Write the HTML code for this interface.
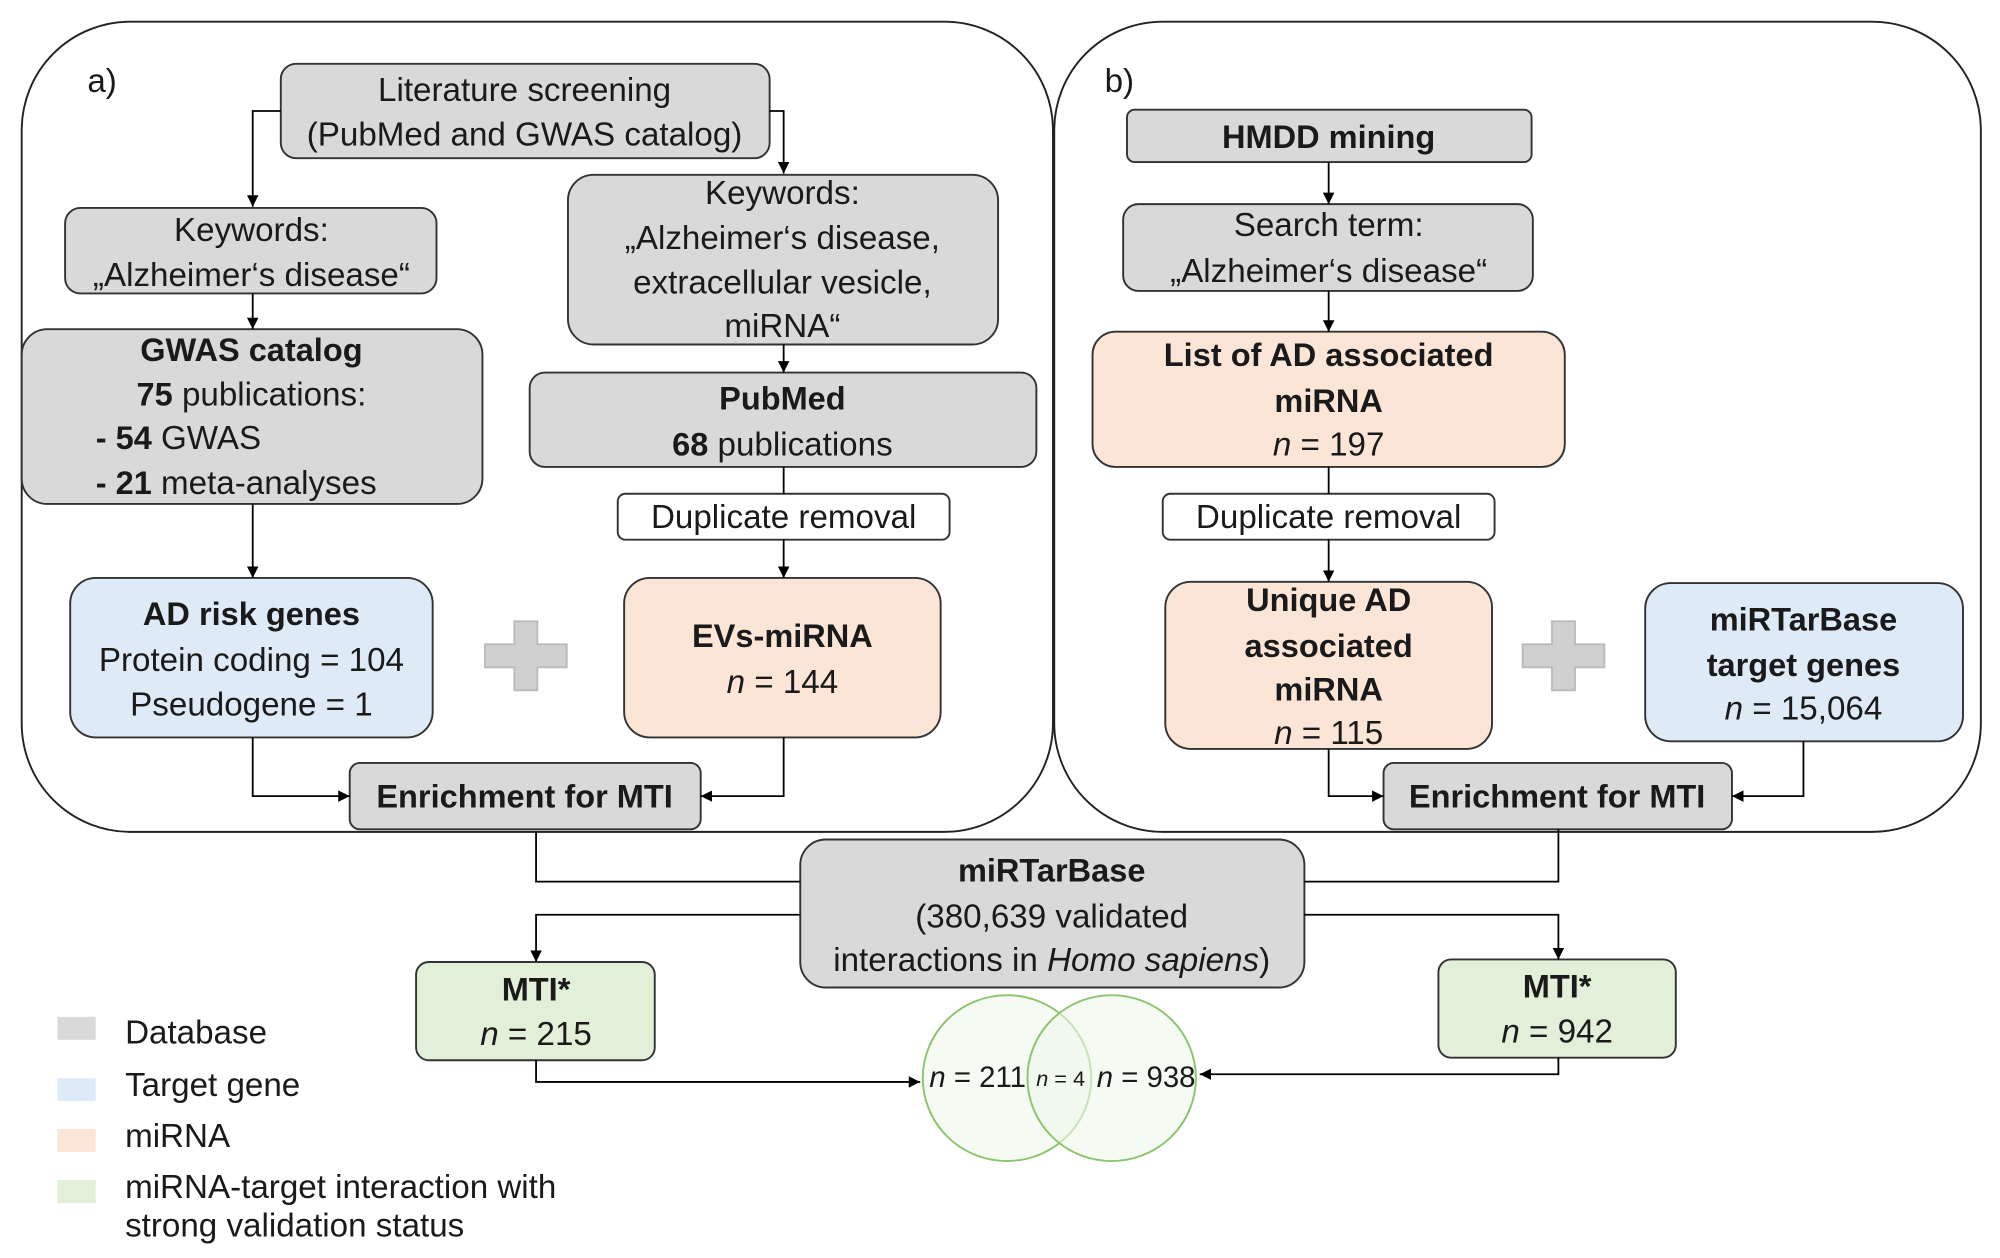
<!DOCTYPE html>
<html><head><meta charset="utf-8"><style>
html,body{margin:0;padding:0;background:#fff;}
svg{display:block;}
text{font-family:"Liberation Sans",sans-serif;font-size:26px;fill:#1a1a1a;text-anchor:middle;}
.b{font-weight:bold;font-size:25.5px;}
.s{font-size:23px;}
</style></head><body>
<svg width="2000" height="1258" viewBox="0 0 1567 986" preserveAspectRatio="none" xmlns="http://www.w3.org/2000/svg">
<defs>
<marker id="ar" viewBox="0 0 10 10" refX="10" refY="5" markerWidth="9" markerHeight="9" orient="auto" markerUnits="userSpaceOnUse"><path d="M0,0 L10,5 L0,10 z" fill="#000"/></marker>
</defs>
<g fill="none" stroke="#222" stroke-width="1.5">
<rect x="17" y="17" width="808" height="635" rx="85"/>
<rect x="826" y="17" width="726" height="635" rx="85"/>
</g>
<text x="80" y="72">a)</text>
<text x="877" y="72">b)</text>
<g stroke="#333" stroke-width="1.5">
<rect x="220" y="50" width="383" height="74" rx="12" fill="#d9d9d9"/>
<rect x="51" y="163" width="291" height="67" rx="12" fill="#d9d9d9"/>
<rect x="17" y="258" width="361" height="137" rx="20" fill="#d9d9d9"/>
<rect x="445" y="137" width="337" height="133" rx="20" fill="#d9d9d9"/>
<rect x="415" y="292" width="397" height="74" rx="12" fill="#d9d9d9"/>
<rect x="484" y="387" width="260" height="36" rx="6" fill="#fff"/>
<rect x="489" y="453" width="248" height="125" rx="20" fill="#fbe5d6"/>
<rect x="55" y="453" width="284" height="125" rx="20" fill="#deebf7"/>
<rect x="274" y="598" width="275" height="52" rx="8" fill="#d9d9d9"/>
<rect x="883" y="86" width="317" height="41" rx="6" fill="#d9d9d9"/>
<rect x="880" y="160" width="321" height="68" rx="12" fill="#d9d9d9"/>
<rect x="856" y="260" width="370" height="106" rx="18" fill="#fbe5d6"/>
<rect x="911" y="387" width="260" height="36" rx="6" fill="#fff"/>
<rect x="913" y="456" width="256" height="131" rx="20" fill="#fbe5d6"/>
<rect x="1289" y="457" width="249" height="124" rx="20" fill="#deebf7"/>
<rect x="1084" y="598" width="273" height="52" rx="8" fill="#d9d9d9"/>
<rect x="627" y="658" width="395" height="116" rx="20" fill="#d9d9d9"/>
<rect x="326" y="754" width="187" height="77" rx="10" fill="#e2f0d9"/>
<rect x="1127" y="752" width="186" height="77" rx="10" fill="#e2f0d9"/>
</g>
<g fill="#d0d0d0" stroke="#bbb" stroke-width="1.5">
<path d="M403,487 h18 v18 h23 v18 h-23 v18 h-18 v-18 h-23 v-18 h23 z"/>
<path d="M1216,487 h18 v18 h23 v18 h-23 v18 h-18 v-18 h-23 v-18 h23 z"/>
</g>
<g stroke="#8cc46e" stroke-width="1.5" fill="#eef6e9" fill-opacity="0.6">
<ellipse cx="789" cy="845" rx="66" ry="65"/>
<ellipse cx="871" cy="845" rx="66" ry="65"/>
</g>
<g fill="none" stroke="#000" stroke-width="1.4">
<path d="M220,87 H198 V162" marker-end="url(#ar)"/>
<path d="M603,87 H614 V136" marker-end="url(#ar)"/>
<path d="M198,230 V258" marker-end="url(#ar)"/>
<path d="M614,270 V292" marker-end="url(#ar)"/>
<path d="M614,366 V387"/>
<path d="M614,423 V453" marker-end="url(#ar)"/>
<path d="M198,395 V453" marker-end="url(#ar)"/>
<path d="M198,578 V624 H274" marker-end="url(#ar)"/>
<path d="M614,578 V624 H549" marker-end="url(#ar)"/>
<path d="M1041,127 V160" marker-end="url(#ar)"/>
<path d="M1041,228 V260" marker-end="url(#ar)"/>
<path d="M1041,366 V387"/>
<path d="M1041,423 V456" marker-end="url(#ar)"/>
<path d="M1041,587 V624 H1084" marker-end="url(#ar)"/>
<path d="M1413,581 V624 H1357" marker-end="url(#ar)"/>
<path d="M420,652 V691 H627"/>
<path d="M1221,650 V691 H1022"/>
<path d="M627,717 H420 V754" marker-end="url(#ar)"/>
<path d="M1022,717 H1221 V752" marker-end="url(#ar)"/>
<path d="M420,831 V848 H721" marker-end="url(#ar)"/>
<path d="M1221,829 V842 H940" marker-end="url(#ar)"/>
</g>
<text x="411" y="79">Literature screening</text>
<text x="411" y="114">(PubMed and GWAS catalog)</text>
<text x="197" y="189">Keywords:</text>
<text x="197" y="224">„Alzheimer‘s disease“</text>
<text x="197" y="283" class="b">GWAS catalog</text>
<text x="197" y="318"><tspan class="b">75</tspan> publications:</text>
<text x="75" y="352" style="text-anchor:start"><tspan class="b">- 54</tspan> GWAS</text>
<text x="75" y="387" style="text-anchor:start"><tspan class="b">- 21</tspan> meta-analyses</text>
<text x="613" y="160">Keywords:</text>
<text x="613" y="195">„Alzheimer‘s disease,</text>
<text x="613" y="230">extracellular vesicle,</text>
<text x="613" y="264">miRNA“</text>
<text x="613" y="321" class="b">PubMed</text>
<text x="613" y="357"><tspan class="b">68</tspan> publications</text>
<text x="614" y="414">Duplicate removal</text>
<text x="613" y="507" class="b">EVs-miRNA</text>
<text x="613" y="543"><tspan font-style="italic">n</tspan> = 144</text>
<text x="197" y="490" class="b">AD risk genes</text>
<text x="197" y="526">Protein coding = 104</text>
<text x="197" y="561">Pseudogene = 1</text>
<text x="411" y="633" class="b">Enrichment for MTI</text>
<text x="1041" y="116" class="b">HMDD mining</text>
<text x="1041" y="185">Search term:</text>
<text x="1041" y="221">„Alzheimer‘s disease“</text>
<text x="1041" y="287" class="b">List of AD associated</text>
<text x="1041" y="323" class="b">miRNA</text>
<text x="1041" y="357"><tspan font-style="italic">n</tspan> = 197</text>
<text x="1041" y="414">Duplicate removal</text>
<text x="1041" y="479" class="b">Unique AD</text>
<text x="1041" y="515" class="b">associated</text>
<text x="1041" y="549" class="b">miRNA</text>
<text x="1041" y="583"><tspan font-style="italic">n</tspan> = 115</text>
<text x="1413" y="494" class="b">miRTarBase</text>
<text x="1413" y="530" class="b">target genes</text>
<text x="1413" y="564"><tspan font-style="italic">n</tspan> = 15,064</text>
<text x="1220" y="633" class="b">Enrichment for MTI</text>
<text x="824" y="691" class="b">miRTarBase</text>
<text x="824" y="727">(380,639 validated</text>
<text x="824" y="761">interactions in <tspan font-style="italic">Homo sapiens</tspan>)</text>
<text x="420" y="784" class="b">MTI*</text>
<text x="420" y="819"><tspan font-style="italic">n</tspan> = 215</text>
<text x="1220" y="782" class="b">MTI*</text>
<text x="1220" y="817"><tspan font-style="italic">n</tspan> = 942</text>
<text x="766" y="852" class="s"><tspan font-style="italic">n</tspan> = 211</text>
<text x="831" y="851" style="font-size:17px"><tspan font-style="italic">n</tspan> = 4</text>
<text x="898" y="852" class="s"><tspan font-style="italic">n</tspan> = 938</text>
<rect x="45" y="797" width="30" height="18" fill="#d9d9d9"/>
<rect x="45" y="845" width="30" height="18" fill="#deebf7"/>
<rect x="45" y="885" width="30" height="18" fill="#fbe5d6"/>
<rect x="45" y="925" width="30" height="18" fill="#e2f0d9"/>
<text x="98" y="818" style="text-anchor:start">Database</text>
<text x="98" y="859" style="text-anchor:start">Target gene</text>
<text x="98" y="899" style="text-anchor:start">miRNA</text>
<text x="98" y="939" style="text-anchor:start">miRNA-target interaction with</text>
<text x="98" y="969" style="text-anchor:start">strong validation status</text>
</svg>
</body></html>
